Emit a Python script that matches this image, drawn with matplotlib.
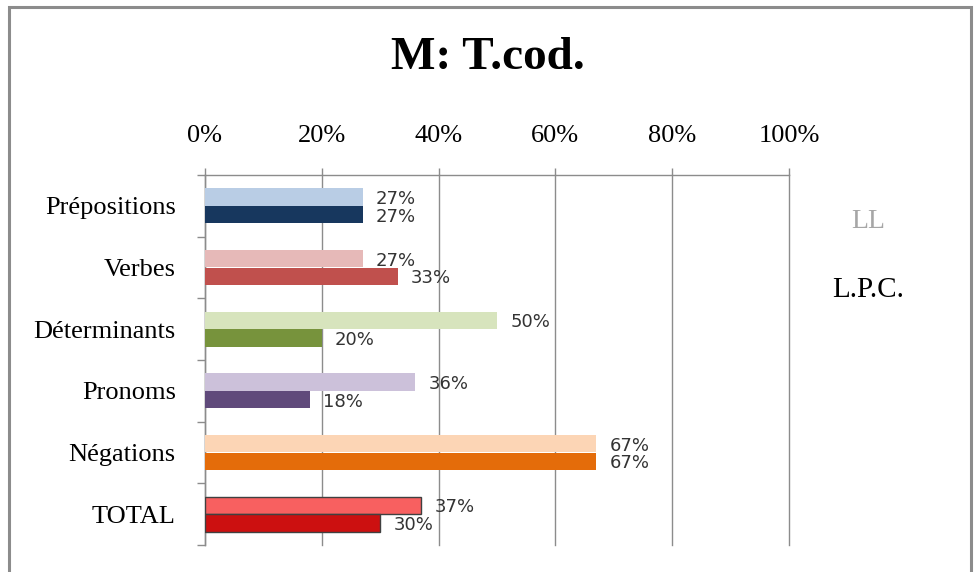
import matplotlib
matplotlib.use("Agg")
import matplotlib.pyplot as plt
from matplotlib.patches import Rectangle
import numpy as np

categories = ["Prépositions", "Verbes", "Déterminants", "Pronoms", "Négations", "TOTAL"]
ll_values = [27, 27, 50, 36, 67, 37]
lpc_values = [27, 33, 20, 18, 67, 30]
ll_colors = ["#B9CDE5", "#E6B9B8", "#D7E4BD", "#CCC1DA", "#FCD5B5", "#F86060"]
lpc_colors = ["#17375E", "#C0504D", "#77933C", "#604A7B", "#E46C0A", "#CC1010"]
x_ticks = [0, 20, 40, 60, 80, 100]
series_names = ["LL", "L.P.C."]

serif = "Liberation Serif"

fig = plt.figure(figsize=(9.76, 5.72), dpi=100)
fig.patch.set_facecolor("white")

# outer chart frame
fig.add_artist(Rectangle((9 / 976, -0.05), (971 - 9) / 976, 1.05 - 7 / 572,
                         transform=fig.transFigure, fill=False,
                         edgecolor="#8C8C8C", linewidth=2.2))

ax = fig.add_axes([205 / 976, 1 - 545 / 572, (789 - 205) / 976, (545 - 175) / 572])

n = len(categories)
centers = np.arange(n) + 0.5
bar_h = 0.285
for i in range(n):
    edge = "#404040" if categories[i] == "TOTAL" else "none"
    lw = 1.0 if categories[i] == "TOTAL" else 0
    ax.barh(centers[i] - bar_h / 2, ll_values[i], height=bar_h, color=ll_colors[i],
            edgecolor=edge, linewidth=lw, zorder=3)
    ax.barh(centers[i] + bar_h / 2, lpc_values[i], height=bar_h, color=lpc_colors[i],
            edgecolor=edge, linewidth=lw, zorder=3)
    ax.annotate(f"{ll_values[i]}%", (ll_values[i], centers[i] - bar_h / 2),
                xytext=(9.5, -1.5), textcoords="offset points", va="center", ha="left",
                fontsize=13, color="#333333", family="DejaVu Sans", zorder=4)
    ax.annotate(f"{lpc_values[i]}%", (lpc_values[i], centers[i] + bar_h / 2),
                xytext=(9.5, -1.5), textcoords="offset points", va="center", ha="left",
                fontsize=13, color="#333333", family="DejaVu Sans", zorder=4)

ax.set_xlim(0, 100)
ax.set_ylim(n, 0)

ax.xaxis.tick_top()
ax.set_xticks(x_ticks)
ax.set_xticklabels([f"{t}%" for t in x_ticks], family=serif, fontsize=19)
ax.tick_params(axis="x", which="major", direction="out", length=5, width=1,
               color="#8C8C8C", pad=15)
ax.grid(axis="x", color="#8C8C8C", linewidth=1, zorder=0)
for gl in ax.get_xgridlines():
    gl.set_clip_on(False)

ax.set_yticks(np.arange(n + 1))
ax.set_yticklabels([])
ax.set_yticks(centers, minor=True)
ax.set_yticklabels(categories, minor=True, family=serif, fontsize=19)
ax.tick_params(axis="y", which="major", direction="out", length=6, width=1, color="#8C8C8C")
ax.tick_params(axis="y", which="minor", length=0, pad=21)

for side in ["bottom", "right"]:
    ax.spines[side].set_visible(False)
for side in ["top", "left"]:
    ax.spines[side].set_color("#8C8C8C")
    ax.spines[side].set_linewidth(1)

fig.text(488 / 976, 1 - 58 / 572, "M: T.cod.", ha="center", va="center",
         family=serif, fontsize=34, fontweight="bold")

# series legend
fig.text(868 / 976, 1 - 222 / 572, series_names[0], ha="center", va="center",
         family=serif, fontsize=20, color="#A6A6A6")
fig.text(868 / 976, 1 - 290 / 572, series_names[1], ha="center", va="center",
         family=serif, fontsize=21, color="black")

fig.savefig("out.png", dpi=100, facecolor="white")
